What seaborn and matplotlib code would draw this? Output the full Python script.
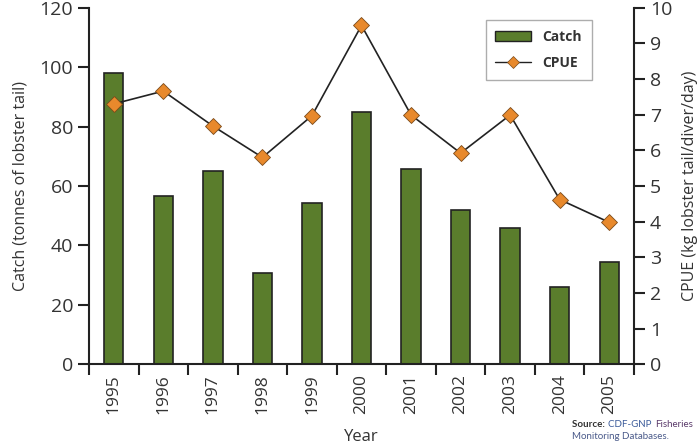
import matplotlib
matplotlib.use("Agg")
import matplotlib.pyplot as plt
import seaborn as sns
import numpy as np
from matplotlib.patches import Patch
from matplotlib.lines import Line2D

years = ["1995", "1996", "1997", "1998", "1999", "2000",
         "2001", "2002", "2003", "2004", "2005"]
catch = [98.0, 56.6, 64.9, 30.8, 54.1, 85.0, 65.7, 51.8, 45.8, 26.0, 34.3]
cpue = [7.3, 7.66, 6.68, 5.8, 6.97, 9.5, 6.99, 5.92, 6.99, 4.62, 3.98]

sns.set_theme(style="white")
plt.rcParams['font.family'] = ['Open Sans', 'DejaVu Sans']

bar_color = '#5a7d2c'
marker_color = '#e8892c'
ink = '#222222'
text_grey = '#333333'

fig = plt.figure(figsize=(6.97, 4.47), dpi=100)
ax = fig.add_axes([0.1277, 0.185, 0.7819, 0.798])

sns.barplot(x=years, y=catch, ax=ax, color=bar_color, width=0.39,
            edgecolor=ink, linewidth=1.2, saturation=1)
ax.set_xlim(-0.5, 10.5)
ax.set_ylim(0, 120)
ax.set_yticks(np.arange(0, 121, 20))
ax.set_ylabel('Catch (tonnes of lobster tail)', fontsize=11.5, color=text_grey,
              labelpad=8)
ax.set_xlabel('Year', fontsize=12, color=text_grey)
ax.xaxis.set_label_coords(0.5, -0.18)

ax2 = ax.twinx()
sns.lineplot(x=years, y=cpue, ax=ax2, color=ink, linewidth=1.2,
             marker='D', markersize=8, markerfacecolor=marker_color,
             markeredgecolor='#7a4a1a', markeredgewidth=0.6)
ax2.set_ylim(0, 10)
ax2.set_yticks(np.arange(0, 11, 1))
ax2.set_ylabel('CPUE (kg lobster tail/diver/day)', fontsize=11.5, color=text_grey,
               labelpad=7)

# ticks: x tick marks sit between categories, labels under bars
ax.set_xticks(range(len(years)))
ax.set_xticklabels(years, rotation=90, fontsize=12.5, color=text_grey)
ax.set_xticks(np.arange(-0.5, len(years), 1), minor=True)
ax.tick_params(axis='x', which='major', length=0, pad=7)
ax.tick_params(axis='x', which='minor', bottom=True, length=8, width=1.5, color=ink)
ax.tick_params(axis='y', left=True, length=8, width=1.5, color=ink,
               labelsize=14, labelcolor=text_grey)
ax2.tick_params(axis='y', right=True, length=8, width=1.5, color=ink,
                labelsize=14, labelcolor=text_grey)

for a in (ax, ax2):
    for side in ('left', 'right', 'bottom'):
        a.spines[side].set_color(ink)
        a.spines[side].set_linewidth(1.5)
    a.spines['top'].set_visible(False)
ax.spines['right'].set_visible(False)
ax2.spines['left'].set_visible(False)
ax2.spines['bottom'].set_visible(False)

handles = [Patch(facecolor=bar_color, edgecolor=ink, linewidth=1.0),
           Line2D([0], [0], color=ink, linewidth=1.0, marker='D', markersize=6,
                  markerfacecolor=marker_color, markeredgecolor='#7a4a1a',
                  markeredgewidth=0.5)]
leg = ax2.legend(handles, ['Catch', 'CPUE'], loc='upper left',
                 bbox_to_anchor=(0.715, 0.985), frameon=True, fancybox=False,
                 prop={'weight': 'bold', 'size': 10}, handlelength=2.6,
                 borderpad=0.7, labelspacing=0.9)
leg.get_frame().set_edgecolor('#999999')
leg.get_frame().set_linewidth(1.0)
for t in leg.get_texts():
    t.set_color(text_grey)

# source note, coloured pieces placed one after another
src_font = dict(fontsize=7, family=['Lato', 'DejaVu Sans'])
fig.canvas.draw()
renderer = fig.canvas.get_renderer()
x0 = 572
for piece, col, wt in [('Source: ', text_grey, 'bold'),
                       ('CDF-GNP ', '#3a5a9a', 'normal'),
                       ('Fisheries', '#5a3a6a', 'normal')]:
    t = fig.text(x0 / 697, 0.045, piece, color=col, weight=wt, **src_font)
    x0 = t.get_window_extent(renderer).x1 + 1
fig.text(572 / 697, 0.018, 'Monitoring Databases.', color='#4a5a8a', **src_font)

fig.savefig('out.png', dpi=100)
